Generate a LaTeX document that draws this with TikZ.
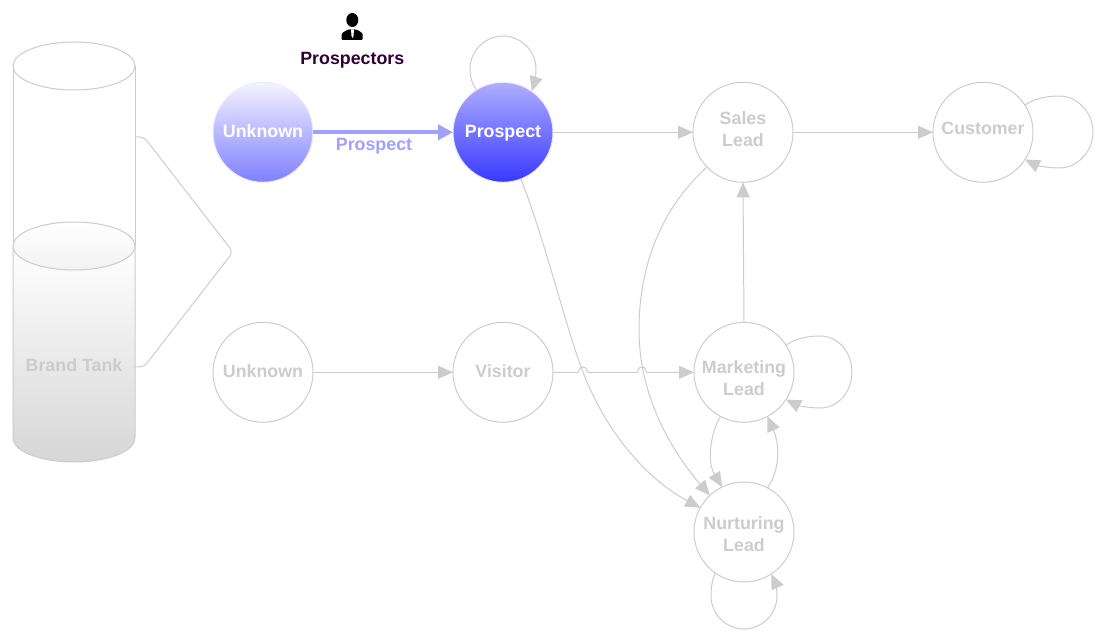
\documentclass[tikz,border=0pt]{standalone}
\usepackage{fontspec}
\setmainfont{Liberation Sans}
\usetikzlibrary{arrows.meta}
\definecolor{ln}{HTML}{CCCCCC}
\definecolor{pale}{HTML}{A0A0FF}
\definecolor{plum}{HTML}{2E0033}
\tikzset{
  x=1pt,y=-1pt,
  big/.style={font=\bfseries\fontsize{17.8}{21.5}\selectfont,align=center},
  state/.style={circle,draw=ln,line width=1pt,minimum size=100pt,inner sep=0pt,outer sep=0pt,text=ln,big},
  lab/.style={anchor=center,text=ln,big},
  wire/.style={draw=ln,line width=1pt,-{Triangle[length=15pt,width=13pt,fill=ln]}},
  hot/.style={state,draw=#1,text=white},
  plain/.style={draw=ln,line width=1pt}
}
\begin{document}
\begin{tikzpicture}
\useasboundingbox (0,0) rectangle (1112,644);
% tank
\draw[plain] (13,66) -- (13,246) (135,66) -- (135,246);
\draw[plain,fill=white] (74,66) ellipse [x radius=61,y radius=24];
\shade[top color=white,bottom color=ln!80!white,draw=ln,line width=1pt]
  (13,246) -- (13,438) .. controls (13,452) and (42,462) .. (74,462)
  .. controls (106,462) and (135,452) .. (135,438) -- (135,246) -- cycle;
\shade[top color=white,bottom color=white!95!black,draw=ln,line width=1pt]
  (74,246) ellipse [x radius=61,y radius=24];
\node[lab] (tank) at (74,365) {Brand Tank};
% brace
\draw[plain,rounded corners=5pt] (135,137) -- (144,137) -- (233,252) -- (144,367) -- (135,367);
% person icon
\fill[black] (352.3,20) ellipse [x radius=6,y radius=7];
\fill[black,rounded corners=1pt] (341.7,40) -- (341.7,33.5) -- (346,30.5) -- (348.5,29.5) -- (356,29.5) -- (358.5,30.5) -- (362.7,33.5) -- (362.7,40) -- cycle;
\fill[white] (351,29.5) -- (354,29.5) -- (353.5,36) -- (352.5,38) -- (351.5,36) -- cycle;
\node[anchor=center,text=plum,big] (who) at (352.3,60) {Prospectors};
% states
\node[hot=white!80!pale,top color=white!80!pale!60!white,bottom color=pale!45!blue!70!white] (u1) at (263,132.3) {};
\node[lab,text=white] (u1t) at (263,131) {Unknown};
\node[hot=white!80!pale,top color=pale!85!white,bottom color=blue!78!white] (p1) at (503,132.3) {};
\node[lab,text=white] (p1t) at (503,133) {Prospect};
\node[state] (sales) at (743,132.3) {};
\node[lab] (salest) at (743,129) {Sales\\Lead};
\node[state] (cust) at (983,132.3) {};
\node[lab] (custt) at (983,128) {Customer};
\node[state] (u2) at (263,372.3) {};
\node[lab] (u2t) at (263,371) {Unknown};
\node[state] (vis) at (503,372.3) {};
\node[lab] (vist) at (503,371) {Visitor};
\node[state] (mkt) at (744,372.3) {};
\node[lab] (mktt) at (744,378) {Marketing\\Lead};
\node[state] (nur) at (744,532) {};
\node[lab] (nurt) at (744,534) {Nurturing\\Lead};
% connectors
\draw[draw=pale,line width=4pt,-{Triangle[length=15pt,width=15pt,fill=pale]}] (u1) -- (p1);
\node[anchor=center,text=pale,big] (pl) at (374,146) {Prospect};
\draw[wire] (p1) -- (sales);
\draw[wire] (sales) -- (cust);
\draw[wire] (u2) -- (vis);
\draw[wire] (vis.east) -- (578,372.3) .. controls (579.5,372.3) and (578.5,367) .. (583,367)
  .. controls (587.5,367) and (586.5,372.3) .. (588,372.3) -- (637,372.3)
  .. controls (638.5,372.3) and (637.5,367) .. (642,367)
  .. controls (646.5,367) and (645.5,372.3) .. (647,372.3) -- (mkt.west);
\draw[wire] (mkt.90) -- (sales.270);
\draw[wire] (p1.-69) .. controls (545,240) and (565,325) .. (583,372) .. controls (605,430) and (645,478) .. (nur.151);
\draw[wire] (sales.-136) .. controls (665,205) and (639,260) .. (639,330) .. controls (639,400) and (675,455) .. (nur.133);
\draw[wire] (mkt.-118) .. controls (710,434) and (707,462) .. (nur.116);
\draw[wire] (nur.62) .. controls (780,470) and (780,445) .. (mkt.-62);
\draw[wire] (nur.-125) .. controls (712,580) and (711,588) .. (711,596) .. controls (711,614) and (726,629) .. (744,629)
  .. controls (762,629) and (777,614) .. (777,596) .. controls (777,588) and (775,582) .. (nur.-57);
\draw[wire] (mkt.33) .. controls (795,339) and (807,336) .. (820,336) .. controls (838,336) and (852,352) .. (852,372)
  .. controls (852,392) and (838,408) .. (820,408) .. controls (808,408) and (797,405) .. (mkt.-33);
\draw[wire] (cust.33) .. controls (1034,99) and (1046,96) .. (1059,96) .. controls (1077,96) and (1093,112) .. (1093,132)
  .. controls (1093,152) and (1077,168) .. (1059,168) .. controls (1047,168) and (1036,165) .. (cust.-33);
\draw[wire] (p1.122) .. controls (472,84) and (470,77) .. (470,69) .. controls (470,51) and (485,36) .. (503,36)
  .. controls (521,36) and (536,51) .. (536,69) .. controls (536,76) and (534,84) .. (p1.55);
\end{tikzpicture}
\end{document}
